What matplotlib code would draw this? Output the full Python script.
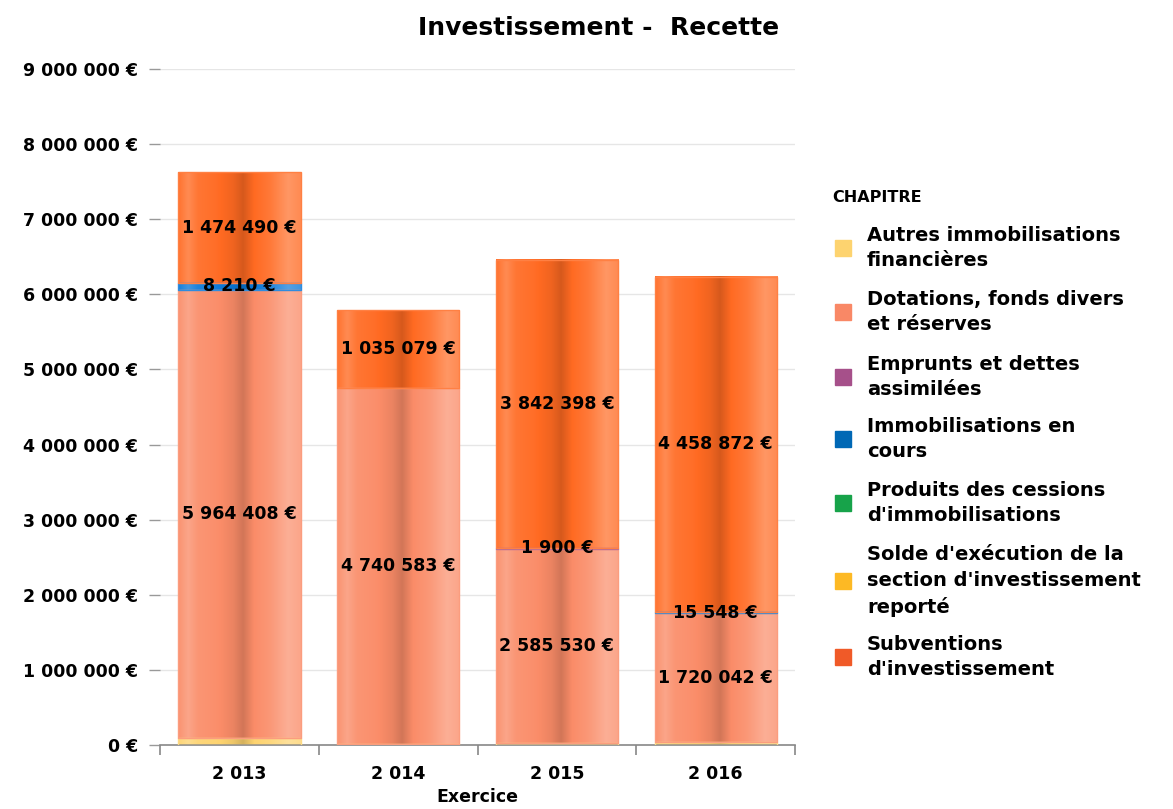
import numpy as np
import matplotlib
matplotlib.use("Agg")
import matplotlib.pyplot as plt
from matplotlib.colors import to_rgb

years = ["2 013", "2 014", "2 015", "2 016"]

series = ["Autres immobilisations\nfinancières",
          "Dotations, fonds divers\net réserves",
          "Emprunts et dettes\nassimilées",
          "Immobilisations en\ncours",
          "Produits des cessions\nd'immobilisations",
          "Solde d'exécution de la\nsection d'investissement\nreporté",
          "Subventions\nd'investissement"]

colors = ["#FDD36F", "#F98866", "#A6508A", "#0068B5", "#17A34A", "#FDB924", "#F05A28"]
bar_colors = ["#FDD36F", "#FA8C68", "#A6508A", "#0A78D8", "#17A34A", "#FDB924", "#FF6A22"]

autres = [95000, 15000, 30000, 35000]
dotations = [5964408, 4740583, 2585530, 1720042]
emprunts = [0, 0, 1900, 0]
immobilisations = [88210, 0, 0, 15548]   # 2013 band is drawn ~88k tall, its label reads "8 210 €"
produits = [0, 0, 0, 0]
solde = [0, 0, 0, 0]
subventions = [1474490, 1035079, 3842398, 4458872]

values = [autres, dotations, emprunts, immobilisations, produits, solde, subventions]
show_label = [False, True, True, True, True, True, True]
label_override = {(3, 0): "8 210 €"}

yticks = np.arange(0, 9000001, 1000000)


def fmt(v):
    return f"{v:,}".replace(",", " ") + " €"


def shade(color, n=120):
    # cylinder-like horizontal shading
    pos = [0.0, 0.08, 0.16, 0.3, 0.45, 0.53, 0.62, 0.75, 0.9, 1.0]
    fac = [0.06, 0.22, 0.08, 0.03, -0.06, -0.16, 0.0, 0.1, 0.3, 0.22]
    x = np.linspace(0, 1, n)
    f = np.interp(x, pos, fac)[:, None]
    c = np.array(to_rgb(color))[None, :]
    img = np.where(f > 0, c + (1 - c) * f, c * (1 + f))
    return np.clip(img, 0, 1)[None, :, :]


fig = plt.figure(figsize=(11.73, 8.09), dpi=100)
ax = fig.add_axes([0.1364, 0.079, 0.5414, 0.836])

width = 0.77
x = np.arange(len(years))
bottoms = np.zeros(len(years))
for i, (vals, col) in enumerate(zip(values, bar_colors)):
    for j, v in enumerate(vals):
        if v <= 0:
            continue
        b = bottoms[j]
        ax.imshow(shade(col), extent=(x[j] - width / 2, x[j] + width / 2, b, b + v),
                  aspect="auto", zorder=2, interpolation="bilinear")
        edge = np.array(to_rgb(col))
        ax.bar(x[j], v, width, bottom=b, fill=False,
               edgecolor=edge + (1 - edge) * 0.15, lw=1, zorder=3)
        if show_label[i]:
            txt = label_override.get((i, j), fmt(v))
            ax.text(x[j], b + v / 2, txt, ha="center", va="center",
                    fontsize=12.5, fontweight="bold", color="black", zorder=5)
    bottoms += np.array(vals)

ax.set_xlim(-0.5, len(years) - 0.5)
ax.set_ylim(0, 9000000)
ax.set_yticks(yticks)
ax.set_yticklabels([fmt(v) for v in yticks], fontsize=12.5, fontweight="bold")
ax.set_xticks(x)
ax.set_xticklabels(years, fontsize=12.5, fontweight="bold")
ax.set_xticks(np.arange(-0.5, len(years)), minor=True)
ax.tick_params(axis="x", which="major", length=0, pad=14)
ax.tick_params(axis="x", which="minor", length=7, color="#888888", width=1.2)
ax.tick_params(axis="y", length=8, color="#999999", width=1, pad=8)
ax.grid(axis="y", color="#E6E6E6", lw=1, zorder=0)
ax.set_axisbelow(True)
for s in ["top", "right", "left"]:
    ax.spines[s].set_visible(False)
ax.spines["bottom"].set_color("#888888")
ax.spines["bottom"].set_linewidth(1.2)
ax.set_xlabel("Exercice", fontsize=12.5, fontweight="bold", labelpad=4)

fig.text(0.51, 0.965, "Investissement -  Recette", ha="center", va="center",
         fontsize=18, fontweight="bold")

# legend
W, H = 1173, 809
fig.text(832 / W, 1 - 198 / H, "CHAPITRE", fontsize=11.5, fontweight="bold",
         ha="left", va="center")
square_y = [248, 312, 377, 439, 503, 581, 657]
for name, col, sy in zip(series, colors, square_y):
    fig.patches.append(plt.Rectangle((835 / W, 1 - (sy + 8) / H), 16 / W, 16 / H,
                                     transform=fig.transFigure, color=col))
    fig.text(867 / W, 1 - sy / H, name, fontsize=14, fontweight="bold",
             ha="left", va="center", linespacing=1.45)

fig.savefig("out.png", dpi=100)
